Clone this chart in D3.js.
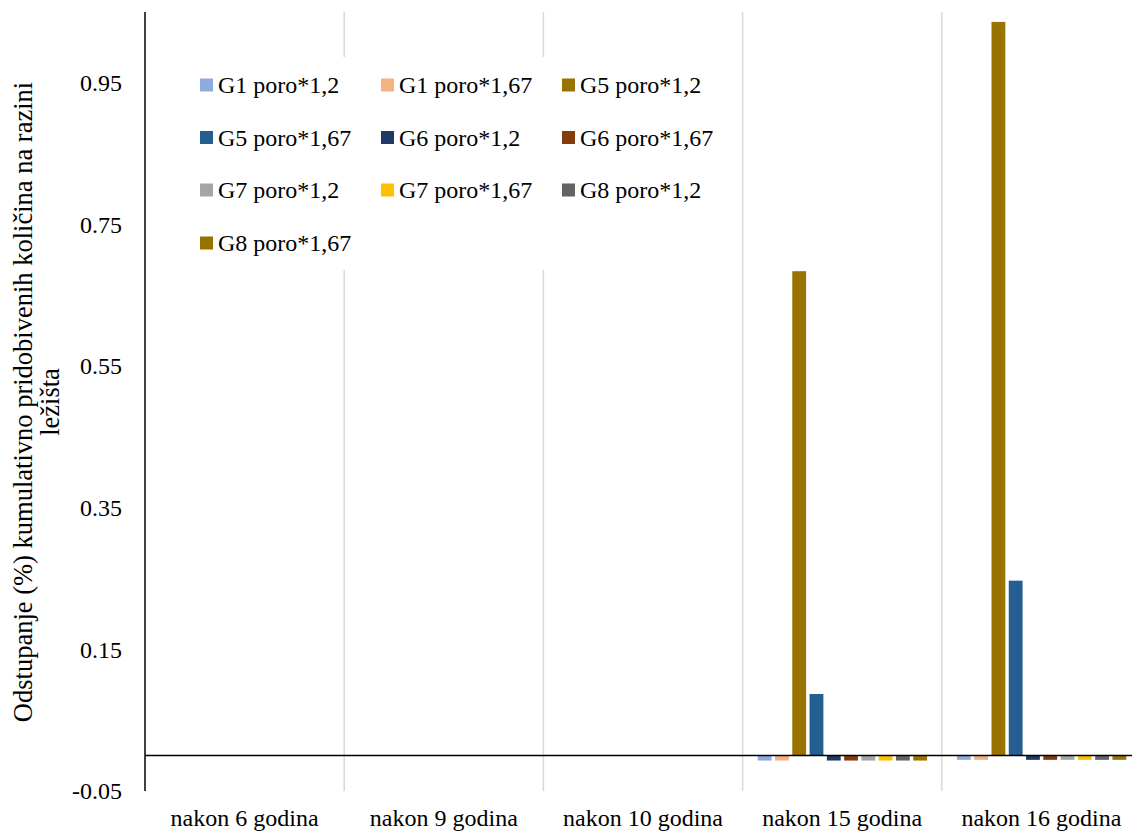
<!DOCTYPE html>
<html>
<head>
<meta charset="utf-8">
<script src="https://cdn.jsdelivr.net/npm/d3@7"></script>
<style>
  html, body { margin: 0; padding: 0; background: #ffffff; overflow: hidden; }
  svg { display: block; }
  svg text { font-family: "Liberation Serif", "Times New Roman", serif; }
</style>
</head>
<body>
<svg id="chart" width="1132" height="831"></svg>
<script>
// ---- Data ----
const categories = ["nakon 6 godina", "nakon 9 godina", "nakon 10 godina", "nakon 15 godina", "nakon 16 godina"];
const seriesNames = ["G1 poro*1,2", "G1 poro*1,67", "G5 poro*1,2", "G5 poro*1,67", "G6 poro*1,2",
                     "G6 poro*1,67", "G7 poro*1,2", "G7 poro*1,67", "G8 poro*1,2", "G8 poro*1,67"];
const g1p12  = [0, 0, 0, -0.007, -0.006];
const g1p167 = [0, 0, 0, -0.007, -0.006];
const g5p12  = [0, 0, 0, 0.684, 1.036];
const g5p167 = [0, 0, 0, 0.087, 0.247];
const g6p12  = [0, 0, 0, -0.007, -0.006];
const g6p167 = [0, 0, 0, -0.007, -0.006];
const g7p12  = [0, 0, 0, -0.007, -0.006];
const g7p167 = [0, 0, 0, -0.007, -0.006];
const g8p12  = [0, 0, 0, -0.007, -0.006];
const g8p167 = [0, 0, 0, -0.007, -0.006];
const seriesValues = [g1p12, g1p167, g5p12, g5p167, g6p12, g6p167, g7p12, g7p167, g8p12, g8p167];
const seriesColors = ["#8faadc", "#f4b183", "#997300", "#255e91", "#203864",
                      "#843c0c", "#a5a5a5", "#ffc000", "#636363", "#997300"];
const yTicks = [-0.05, 0.15, 0.35, 0.55, 0.75, 0.95];
const yTickLabels = ["-0.05", "0.15", "0.35", "0.55", "0.75", "0.95"];
const yTitleLines = ["Odstupanje (%) kumulativno pridobivenih količina na razini", "ležišta"];

// ---- Layout ----
const FONT = "Liberation Serif, Times New Roman, serif";
const svg = d3.select("#chart");
const plot = { left: 145, right: 1141, top: 12, bottom: 791 };

const y = d3.scaleLinear().domain([-0.05, 1.05]).range([plot.bottom, plot.top]);
const x0 = d3.scaleBand().domain(categories).range([plot.left, plot.right]).paddingInner(0).paddingOuter(0);
const bw = x0.bandwidth();
const x1 = d3.scaleBand().domain(seriesNames).range([bw * 0.076, bw * 0.926]).paddingInner(0.2).paddingOuter(0);

// vertical gridlines at category boundaries
const bounds = categories.slice(1).map(c => x0(c));
svg.append("g").selectAll("line").data(bounds).join("line")
  .attr("x1", d => d).attr("x2", d => d)
  .attr("y1", plot.top).attr("y2", plot.bottom)
  .attr("stroke", "#d9d9d9").attr("stroke-width", 1.5);

// bars
const barData = [];
seriesNames.forEach((s, si) => {
  categories.forEach((c, ci) => {
    barData.push({ s, c, v: seriesValues[si][ci], color: seriesColors[si] });
  });
});
svg.append("g").selectAll("rect").data(barData.filter(d => d.v !== 0)).join("rect")
  .attr("x", d => x0(d.c) + x1(d.s))
  .attr("width", x1.bandwidth())
  .attr("y", d => y(Math.max(0, d.v)))
  .attr("height", d => Math.abs(y(d.v) - y(0)))
  .attr("fill", d => d.color);

// y axis line
svg.append("line")
  .attr("x1", plot.left).attr("x2", plot.left)
  .attr("y1", plot.top).attr("y2", plot.bottom)
  .attr("stroke", "#000").attr("stroke-width", 1.5);

// zero line
svg.append("line")
  .attr("x1", plot.left).attr("x2", plot.right)
  .attr("y1", y(0)).attr("y2", y(0))
  .attr("stroke", "#000").attr("stroke-width", 1.5);

// y tick labels
const yAxis = d3.axisLeft(y).tickValues(yTicks).tickSize(0).tickPadding(23)
  .tickFormat((d, i) => yTickLabels[i]);
const yg = svg.append("g").attr("transform", `translate(${plot.left},0)`).call(yAxis);
yg.attr("font-family", FONT);
yg.select(".domain").remove();
yg.selectAll("text").attr("font-size", 24).attr("font-family", FONT).attr("fill", "#000");

// x category labels
const xAxis = d3.axisBottom(x0).tickSize(0).tickPadding(0);
const xg = svg.append("g").attr("transform", `translate(0,${plot.bottom})`).call(xAxis);
xg.attr("font-family", FONT);
xg.select(".domain").remove();
xg.selectAll("text").attr("font-size", 24).attr("font-family", FONT)
  .attr("fill", "#000").attr("dy", null).attr("y", 35);

// y title
const title = svg.append("text")
  .attr("transform", `translate(32,402) rotate(-90)`)
  .attr("text-anchor", "middle")
  .attr("font-family", FONT)
  .attr("font-size", 26.5)
  .attr("fill", "#000");
yTitleLines.forEach((t, i) => {
  title.append("tspan").attr("x", 0).attr("dy", i === 0 ? 0 : 26.5).text(t);
});

// legend
const leg = svg.append("g").attr("font-family", FONT);
leg.append("rect").attr("x", 186).attr("y", 57).attr("width", 545).attr("height", 213).attr("fill", "#fff");
const colX = [200, 381, 562];
const rowY = [85, 137.5, 190, 243];
seriesNames.forEach((s, i) => {
  const cx = colX[i % 3], cy = rowY[Math.floor(i / 3)];
  leg.append("rect").attr("x", cx).attr("y", cy - 6.5).attr("width", 13).attr("height", 13)
    .attr("fill", seriesColors[i]);
  leg.append("text").attr("x", cx + 18).attr("y", cy).attr("dy", "0.35em")
    .attr("font-family", FONT)
    .attr("font-size", 24).attr("fill", "#000").text(s);
});
</script>
</body>
</html>
